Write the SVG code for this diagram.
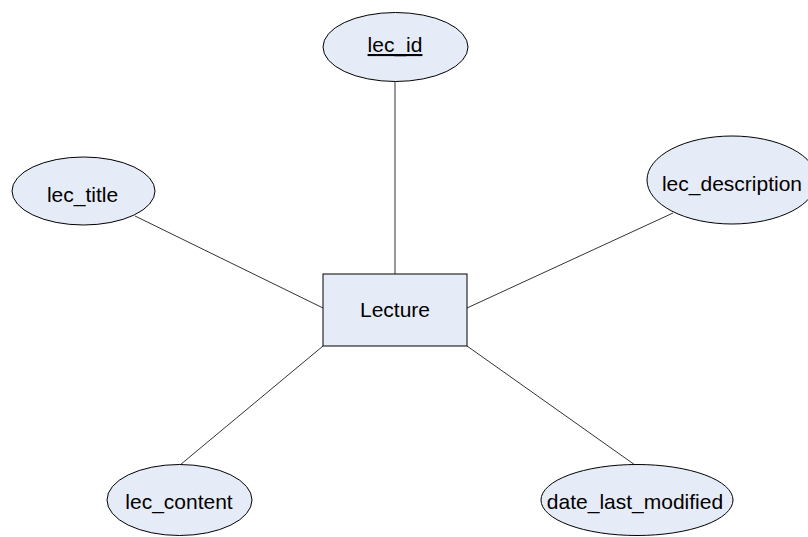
<svg xmlns="http://www.w3.org/2000/svg" width="808" height="537" viewBox="0 0 808 537">
<style>
.shape{fill:#E6ECF7;stroke:#000;stroke-width:1}
.lbl{font-family:"Liberation Sans",Arial,sans-serif;font-size:21px;fill:#000;text-anchor:middle}
.conn line{stroke:#333;stroke-width:1}
</style>
<rect width="808" height="537" fill="#fff"/>
<g id="connectors" class="conn">
<line x1="395" y1="81.5" x2="395" y2="274"/>
<line x1="135" y1="216" x2="323" y2="308"/>
<line x1="673" y1="213" x2="467" y2="308"/>
<line x1="323" y1="346" x2="180" y2="465"/>
<line x1="467" y1="346" x2="635" y2="465"/>
</g>
<g id="lecture">
<rect class="shape" x="323" y="274" width="144" height="72"/>
<text class="lbl" x="395" y="316.5">Lecture</text>
</g>
<g id="lec_id">
<ellipse class="shape" cx="395.5" cy="47" rx="72.5" ry="34.5"/>
<text class="lbl" x="395" y="52" text-decoration="underline">lec_id</text>
</g>
<g id="lec_title">
<ellipse class="shape" cx="83.5" cy="191" rx="71.5" ry="34"/>
<text class="lbl" x="82.5" y="202">lec_title</text>
</g>
<g id="lec_description">
<ellipse class="shape" cx="732" cy="180" rx="85" ry="44"/>
<text class="lbl" x="732" y="191">lec_description</text>
</g>
<g id="lec_content">
<ellipse class="shape" cx="179.5" cy="500" rx="72.5" ry="35.5"/>
<text class="lbl" x="179" y="509">lec_content</text>
</g>
<g id="date_last_modified">
<ellipse class="shape" cx="637" cy="500" rx="96" ry="35.5"/>
<text class="lbl" x="635" y="509">date_last_modified</text>
</g>
</svg>
